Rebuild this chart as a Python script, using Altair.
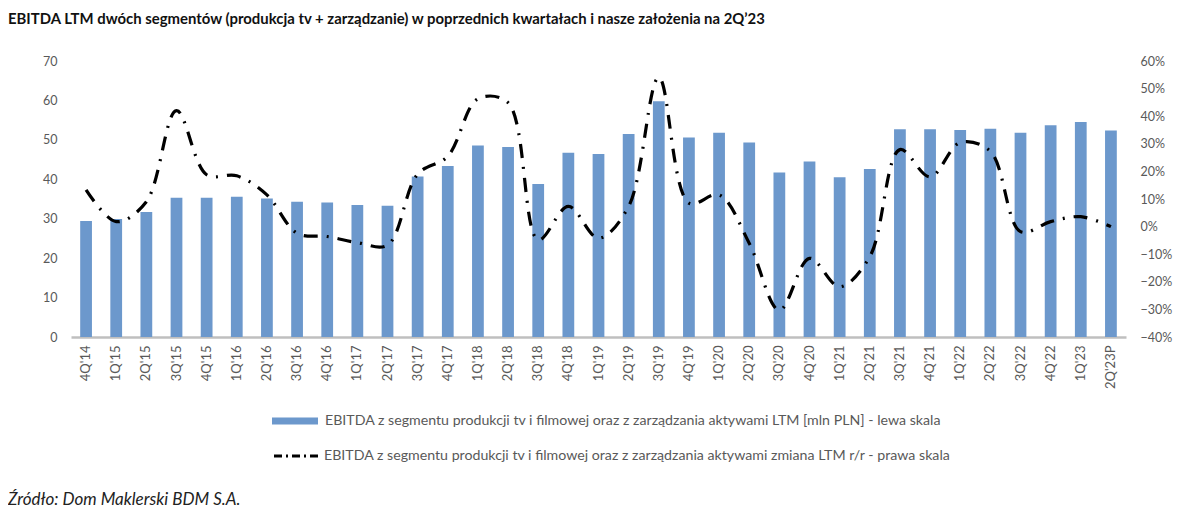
import altair as alt
import pandas as pd

TITLE = "EBITDA LTM dwóch segmentów (produkcja tv + zarządzanie) w poprzednich kwartałach i nasze założenia na 2Q’23"
SOURCE = "Źródło: Dom Maklerski BDM S.A."
LEG_BAR = "EBITDA z segmentu produkcji tv i filmowej oraz z zarządzania aktywami LTM [mln PLN] - lewa skala"
LEG_LINE = "EBITDA z segmentu produkcji tv i filmowej oraz z zarządzania aktywami zmiana LTM r/r - prawa skala"

quarters = ["4Q'14", "1Q'15", "2Q'15", "3Q'15", "4Q'15", "1Q'16", "2Q'16", "3Q'16", "4Q'16",
            "1Q'17", "2Q'17", "3Q'17", "4Q'17", "1Q'18", "2Q'18", "3Q'18", "4Q'18",
            "1Q'19", "2Q'19", "3Q'19", "4Q'19", "1Q'20", "2Q'20", "3Q'20", "4Q'20",
            "1Q'21", "2Q'21", "3Q'21", "4Q'21", "1Q'22", "2Q'22", "3Q'22", "4Q'22",
            "1Q'23", "2Q'23P"]

ebitda = [29.4, 29.9, 31.7, 35.3, 35.3, 35.6, 35.1, 34.3, 34.1,
          33.5, 33.3, 40.7, 43.4, 48.6, 48.2, 38.8, 46.7,
          46.4, 51.5, 59.8, 50.6, 51.8, 49.3, 41.7, 44.5,
          40.5, 42.6, 52.7, 52.7, 52.5, 52.8, 51.8, 53.7,
          54.5, 52.4]

change = [0.133, 0.018, 0.09, 0.42, 0.188, 0.184, 0.115, -0.024, -0.036,
          -0.058, -0.067, 0.19, 0.255, 0.463, 0.449, -0.048, 0.073,
          -0.042, 0.073, 0.54, 0.085, 0.115, -0.06, -0.303, -0.115,
          -0.218, -0.109, 0.279, 0.18, 0.305, 0.273, -0.018, 0.018,
          0.036, 0.0]

BLUE = "#6c98cc"
GREY = "#595959"
FONT = "Lato"

df = pd.DataFrame({"q": quarters, "ebitda": ebitda, "chg": change,
                   "s1": [LEG_BAR] * len(quarters), "s2": [LEG_LINE] * len(quarters)})

xenc = alt.X("q:N", sort=quarters,
             scale=alt.Scale(paddingInner=0.61, paddingOuter=0.305),
             axis=alt.Axis(title=None, labelAngle=-90, labelAlign="right", labelBaseline="middle",
                           labelPadding=8, labelColor=GREY, labelFontSize=13, labelFont=FONT,
                           ticks=False, domainColor="#bfbfbf", domainWidth=2.5, grid=False))

bars = alt.Chart(df).mark_bar().encode(
    x=xenc,
    y=alt.Y("ebitda:Q", scale=alt.Scale(domain=[0, 70], nice=False),
            axis=alt.Axis(title=None, orient="left", values=list(range(0, 71, 10)), domain=False,
                          ticks=False, grid=False, labelPadding=14, labelColor=GREY,
                          labelFontSize=12.5, labelFont=FONT)),
    fill=alt.Fill("s1:N", scale=alt.Scale(range=[BLUE]),
                  legend=alt.Legend(title=None, orient="none", legendX=201, legendY=337,
                                    symbolType="M-1,-0.15H1V0.15H-1Z", symbolSize=2116,
                                    symbolStrokeWidth=0, labelFontSize=14.2, labelColor=GREY,
                                    labelFont=FONT, labelLimit=900, labelOffset=7, padding=0)),
)

line = alt.Chart(df).mark_line(interpolate="catmull-rom", strokeWidth=3.2,
                               strokeDash=[14, 9, 2, 9]).encode(
    x=xenc,
    y=alt.Y("chg:Q", scale=alt.Scale(domain=[-0.4, 0.6], nice=False),
            axis=alt.Axis(title=None, orient="right", format=".0%",
                          values=[-0.4, -0.3, -0.2, -0.1, 0, 0.1, 0.2, 0.3, 0.4, 0.5, 0.6],
                          domain=False, ticks=False, grid=False, labelPadding=14,
                          labelColor=GREY, labelFontSize=12.5, labelFont=FONT)),
    stroke=alt.Stroke("s2:N", scale=alt.Scale(range=["black"]),
                      legend=alt.Legend(title=None, orient="none", legendX=201, legendY=370,
                                        symbolType="stroke", symbolSize=2116,
                                        symbolStrokeWidth=3.2, symbolDash=[8, 4, 2, 4],
                                        labelFontSize=14.2, labelColor=GREY, labelFont=FONT,
                                        labelLimit=900, labelOffset=2, padding=0)),
)

src = alt.Chart(pd.DataFrame({"t": [SOURCE]})).mark_text(
    align="left", baseline="middle", fontStyle="italic", fontSize=17, font=FONT, color="#222222"
).encode(x=alt.value(-63), y=alt.value(439), text="t:N")

chart = alt.layer(bars, line, src).resolve_scale(y="independent").properties(
    width=1055, height=276,
    title=alt.TitleParams(TITLE, anchor="start", frame="group", dx=-63, offset=28,
                          fontSize=14.9, font=FONT, fontWeight="bold", color="#111111"),
    autosize=alt.AutoSizeParams(type="none"),
    padding={"left": 63, "top": 53, "right": 60, "bottom": 176},
).configure_view(stroke=None)

chart.save("out.html", embed_options={"renderer": "svg", "actions": False})
